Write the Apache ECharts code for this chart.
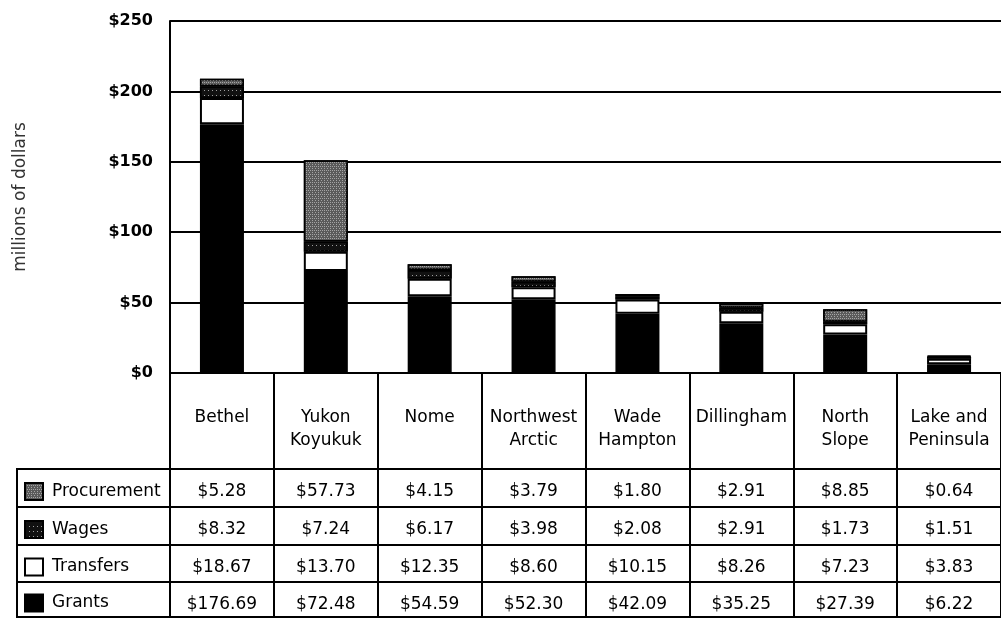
<!DOCTYPE html>
<html>
<head>
<meta charset="utf-8">
<script src="https://cdn.jsdelivr.net/npm/echarts@6/dist/echarts.min.js"></script>
<style>
  html, body { margin: 0; padding: 0; background: #fff; }
  #chart { width: 1001px; height: 618px; }
</style>
</head>
<body>
<div id="chart"></div>
<script>
const categories = ["Bethel", "Yukon\nKoyukuk", "Nome", "Northwest\nArctic", "Wade\nHampton", "Dillingham", "North\nSlope", "Lake and\nPeninsula"];
const procurement = [5.28, 57.73, 4.15, 3.79, 1.8, 2.91, 8.85, 0.64];
const wages = [8.32, 7.24, 6.17, 3.98, 2.08, 2.91, 1.73, 1.51];
const transfers = [18.67, 13.7, 12.35, 8.6, 10.15, 8.26, 7.23, 3.83];
const grants = [176.69, 72.48, 54.59, 52.3, 42.09, 35.25, 27.39, 6.22];
const rowNames = ["Procurement", "Wages", "Transfers", "Grants"];

const FONT = "DejaVu Sans";
const money = (v) => "$" + v.toFixed(2);

// table layout (pixels)
const gridBottom = 373;
const rowTops = [469, 507, 545, 582, 617];

const line = { color: "#000", width: 2 };

function rowAxis(values, i) {
  return {
    type: "category",
    gridIndex: 0,
    position: "bottom",
    offset: rowTops[i] - gridBottom,
    data: values ? values.map(money) : categories.map(() => ""),
    axisLine: { show: true, lineStyle: line },
    axisTick: values
      ? { show: true, interval: 0, length: rowTops[i + 1] - rowTops[i], lineStyle: line }
      : { show: false },
    axisLabel: values
      ? { show: true, interval: 0, margin: 13, lineHeight: 20, fontFamily: FONT, fontSize: 17, color: "#000" }
      : { show: false },
    splitLine: { show: false },
  };
}

// one legend per table row so each sits in its own cell
const legends = rowNames.map((name, i) => ({
  data: [name],
  orient: "vertical",
  left: 24,
  top: (rowTops[i] + rowTops[i + 1]) / 2 - 6,
  padding: 0,
  itemWidth: 18,
  itemHeight: 17,
  icon: "rect",
  selectedMode: false,
  textStyle: { fontFamily: FONT, fontSize: 17, lineHeight: 17, color: "#000", padding: [0, 0, 0, 4] },
}));

const chart = echarts.init(document.getElementById("chart"));

const barStyle = { borderColor: "#000", borderWidth: 1.5 };

chart.setOption({
  animation: false,
  textStyle: { fontFamily: FONT },
  grid: { left: 170, top: 21, width: 836, height: gridBottom - 21 },
  legend: legends,
  xAxis: [
    {
      type: "category",
      data: categories,
      position: "bottom",
      axisLine: { show: true, lineStyle: line },
      axisTick: { show: true, interval: 0, length: rowTops[0] - gridBottom, lineStyle: line },
      axisLabel: {
        interval: 0,
        margin: 33,
        fontFamily: FONT,
        fontSize: 17,
        lineHeight: 23,
        color: "#000",
        align: "center",
        verticalAlign: "top",
      },
    },
    rowAxis(procurement, 0),
    rowAxis(wages, 1),
    rowAxis(transfers, 2),
    rowAxis(grants, 3),
    rowAxis(null, 4),
  ],
  yAxis: {
    type: "value",
    min: 0,
    max: 250,
    interval: 50,
    name: "millions of dollars",
    nameLocation: "middle",
    nameRotate: 90,
    nameGap: 141,
    nameTextStyle: { fontFamily: FONT, fontSize: 17, color: "#333" },
    axisLine: { show: true, lineStyle: line },
    axisTick: { show: false },
    axisLabel: {
      margin: 17,
      fontFamily: FONT,
      fontSize: 16,
      fontWeight: "bold",
      color: "#000",
      formatter: (v) => "$" + v,
    },
    splitLine: { show: true, lineStyle: line },
  },
  graphic: rowNames.map((name, i) => ({
    type: "rect",
    silent: true,
    z: 0,
    shape: { x: 17, y: rowTops[i], width: 153, height: rowTops[i + 1] - rowTops[i] },
    style: { fill: "none", stroke: "#000", lineWidth: 2 },
  })),
  series: [
    {
      name: "Grants",
      type: "bar",
      stack: "total",
      barWidth: 44,
      data: grants,
      itemStyle: { color: "#000", ...barStyle },
    },
    {
      name: "Transfers",
      type: "bar",
      stack: "total",
      data: transfers,
      itemStyle: { color: "#fff", ...barStyle, borderWidth: 2 },
    },
    {
      name: "Wages",
      type: "bar",
      stack: "total",
      data: wages,
      itemStyle: {
        color: "#111",
        ...barStyle,
        decal: {
          symbol: "rect",
          symbolSize: 1,
          dashArrayX: [1, 3],
          dashArrayY: [1, 4],
          color: "rgba(255,255,255,0.6)",
        },
      },
    },
    {
      name: "Procurement",
      type: "bar",
      stack: "total",
      data: procurement,
      itemStyle: {
        color: "#5a5a5a",
        ...barStyle,
        decal: {
          symbol: "rect",
          symbolSize: 1,
          dashArrayX: [[1, 1], [1, 2]],
          dashArrayY: [1, 1],
          color: "rgba(255,255,255,0.45)",
        },
      },
    },
  ],
});
</script>
</body>
</html>
